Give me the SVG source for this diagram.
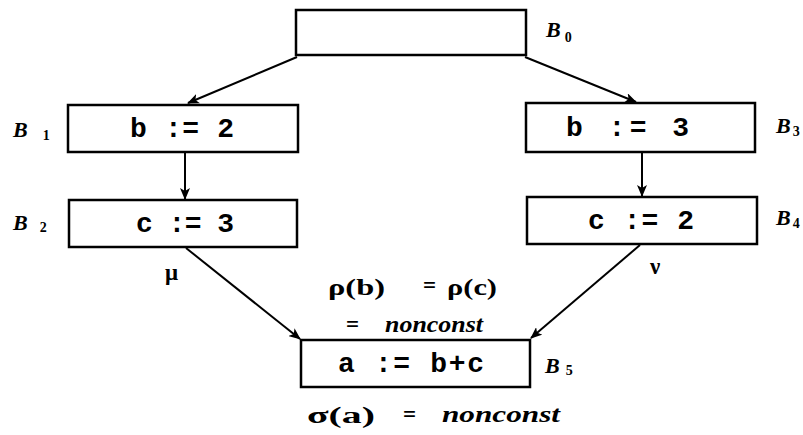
<svg xmlns="http://www.w3.org/2000/svg" width="803" height="435" viewBox="0 0 803 435">
<defs>
<marker id="ah" markerWidth="12" markerHeight="10" refX="11" refY="5" orient="auto" markerUnits="userSpaceOnUse">
<path d="M0,0 L12,5 L0,10 L3,5 Z" fill="#000"/>
</marker>
</defs>
<style>
.box{fill:#fff;stroke:#000;stroke-width:2.5}
.code{font-family:"Liberation Mono","DejaVu Sans Mono",monospace;font-weight:bold;font-size:28px;white-space:pre}
.lbl{font-family:"Liberation Serif","DejaVu Serif",serif;font-weight:bold;font-style:italic;font-size:22px}
.sub{font-size:14px;font-style:normal}
.math{font-family:"Liberation Serif","DejaVu Serif",serif;font-weight:bold;font-size:23px}
.it{font-style:italic}
.edge{stroke:#000;stroke-width:2;fill:none;marker-end:url(#ah)}
</style>
<rect width="803" height="435" fill="#fff"/>
<g id="connectors">
<line class="edge" x1="297" y1="57" x2="188" y2="103"/>
<line class="edge" x1="525" y1="57" x2="636" y2="102"/>
<line class="edge" x1="185" y1="152" x2="185" y2="199"/>
<line class="edge" x1="642" y1="152" x2="642" y2="196"/>
<line class="edge" x1="186" y1="248" x2="300" y2="339"/>
<line class="edge" x1="640" y1="245" x2="531" y2="338"/>
</g>
<g id="B0">
<rect class="box" x="296" y="10" width="230" height="45"/>
<text class="lbl" x="546" y="37">B<tspan class="sub" dx="4" dy="5">0</tspan></text>
</g>
<g id="B1">
<rect class="box" x="68" y="105" width="230" height="47"/>
<text class="code" x="130" y="137" xml:space="preserve" textLength="104" lengthAdjust="spacing">b := 2</text>
<text class="lbl" x="13" y="137">B<tspan class="sub" dx="15" dy="3">1</tspan></text>
</g>
<g id="B2">
<rect class="box" x="69" y="200" width="228" height="47"/>
<text class="code" x="136" y="232" xml:space="preserve" textLength="98" lengthAdjust="spacing">c := 3</text>
<text class="lbl" x="13" y="230">B<tspan class="sub" dx="12" dy="2">2</tspan></text>
</g>
<g id="B3">
<rect class="box" x="526" y="103" width="229" height="49"/>
<text class="code" x="566" y="136" xml:space="preserve" textLength="123" lengthAdjust="spacing">b := 3</text>
<text class="lbl" x="776" y="133">B<tspan class="sub" dx="2" dy="3">3</tspan></text>
</g>
<g id="B4">
<rect class="box" x="527" y="197" width="230" height="47"/>
<text class="code" x="588" y="229" xml:space="preserve" textLength="106" lengthAdjust="spacing">c := 2</text>
<text class="lbl" x="776" y="225">B<tspan class="sub" dx="2" dy="3">4</tspan></text>
</g>
<g id="B5">
<rect class="box" x="301" y="340" width="229" height="47"/>
<text class="code" x="338" y="372" xml:space="preserve" textLength="146" lengthAdjust="spacing">a := b+c</text>
<text class="lbl" x="545" y="373">B<tspan class="sub" dx="6" dy="2">5</tspan></text>
</g>
<g id="annotations">
<text class="math" x="165" y="280">μ</text>
<text class="math" x="650" y="274">ν</text>
<text class="math" x="328" y="295" textLength="57" lengthAdjust="spacingAndGlyphs">ρ(b)</text>
<text class="math" x="423" y="293">=</text>
<text class="math" x="447" y="295" textLength="50" lengthAdjust="spacingAndGlyphs">ρ(c)</text>
<text class="math" x="346" y="332">=</text>
<text class="math it" x="385" y="332" textLength="98" lengthAdjust="spacingAndGlyphs">nonconst</text>
<text class="math" x="307" y="423" textLength="68" lengthAdjust="spacingAndGlyphs">σ(a)</text>
<text class="math" x="403" y="422">=</text>
<text class="math it" x="442" y="422" textLength="118" lengthAdjust="spacingAndGlyphs">nonconst</text>
</g>
</svg>
